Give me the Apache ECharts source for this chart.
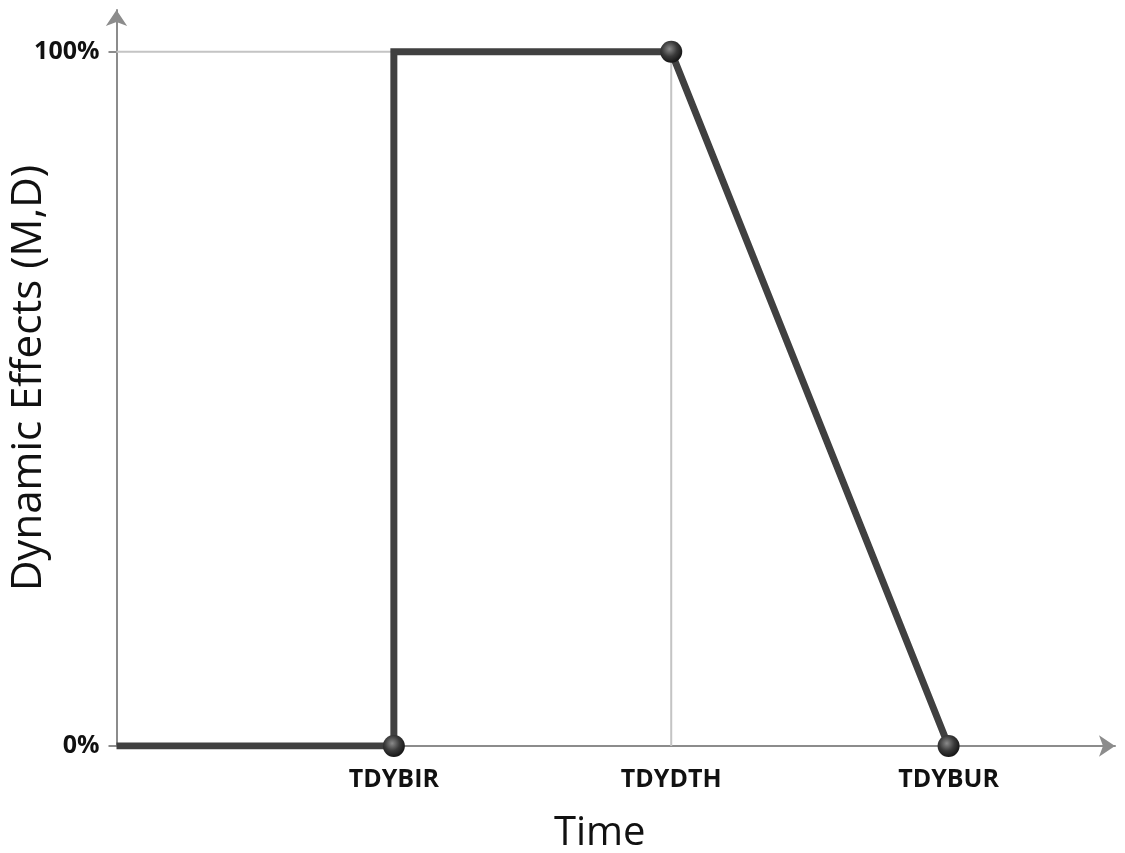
<!DOCTYPE html>
<html>
<head>
<meta charset="utf-8">
<script src="https://cdn.jsdelivr.net/npm/echarts@6/dist/echarts.min.js"></script>
<style>
html,body{margin:0;padding:0;background:#fff;}
#chart{width:1125px;height:853px;}
</style>
</head>
<body>
<div id="chart"></div>
<script>
// ---- data ----
var timeLabels = ['', 'TDYBIR', 'TDYDTH', 'TDYBUR'];
var lineX = [0, 1, 1, 2, 3];
var lineY = [0, 0, 100, 100, 0];
var markerShown = [false, true, false, true, true];
var guideX = [0, 2, 2];
var guideY = [100, 100, 0];
var yTickValues = [0, 100];
var xLabelValues = [1, 2, 3];

var sphere = {
  type: 'radial', x: 0.42, y: 0.38, r: 0.62,
  colorStops: [
    {offset: 0, color: '#8a8a8a'},
    {offset: 0.55, color: '#3a3a3a'},
    {offset: 1, color: '#151515'}
  ]
};

var mainData = lineX.map(function (x, i) {
  return {
    value: [x, lineY[i]],
    symbol: markerShown[i] ? 'circle' : 'none',
    symbolSize: 22
  };
});
var guideData = guideX.map(function (x, i) { return [x, guideY[i]]; });

var chart = echarts.init(document.getElementById('chart'));
chart.setOption({
  animation: false,
  textStyle: {fontFamily: 'Open Sans'},
  grid: {left: 116.5, right: 10, top: 10, bottom: 107, containLabel: false, outerBoundsMode: 'none'},
  xAxis: {
    type: 'value', min: 0, max: 3.6,
    name: 'Time', nameLocation: 'middle', nameGap: 68, nameMoveOverlap: false,
    nameTextStyle: {fontSize: 40, color: '#111', fontFamily: 'Open Sans', padding: [0, 32, 0, 0]},
    axisLine: {show: true, onZero: false, symbol: ['none', 'arrow'], symbolSize: [16, 16],
      lineStyle: {color: '#8c8c8c', width: 2}},
    axisTick: {show: false},
    splitLine: {show: false},
    axisLabel: {
      customValues: xLabelValues,
      margin: 21,
      fontSize: 25, fontWeight: 'bold', color: '#111', fontFamily: 'Open Sans',
      formatter: function (v) { return timeLabels[Math.round(v)] || ''; }
    }
  },
  yAxis: {
    type: 'value', min: 0, max: 106,
    name: 'Dynamic Effects (M,D)', nameLocation: 'middle', nameGap: 66, nameMoveOverlap: false,
    nameTextStyle: {fontSize: 42, color: '#111', fontFamily: 'Open Sans', padding: [0, 0, 0, 0]},
    axisLine: {show: true, symbol: ['none', 'arrow'], symbolSize: [16, 16],
      lineStyle: {color: '#8c8c8c', width: 2}},
    axisTick: {show: true, customValues: yTickValues, length: 8,
      lineStyle: {color: '#8c8c8c', width: 2}},
    splitLine: {show: false},
    axisLabel: {
      customValues: yTickValues,
      margin: 17,
      fontSize: 25, fontWeight: 'bold', color: '#111', fontFamily: 'Open Sans',
      formatter: function (v) { return v + '%'; }
    }
  },
  series: [
    {
      type: 'line', data: guideData, symbol: 'none', z: 1, silent: true,
      lineStyle: {color: '#c4c4c4', width: 2}
    },
    {
      type: 'line', data: mainData, z: 3,
      lineStyle: {color: '#404040', width: 7, join: 'miter', cap: 'butt'},
      itemStyle: {color: sphere, borderWidth: 0}
    }
  ]
});
</script>
</body>
</html>
